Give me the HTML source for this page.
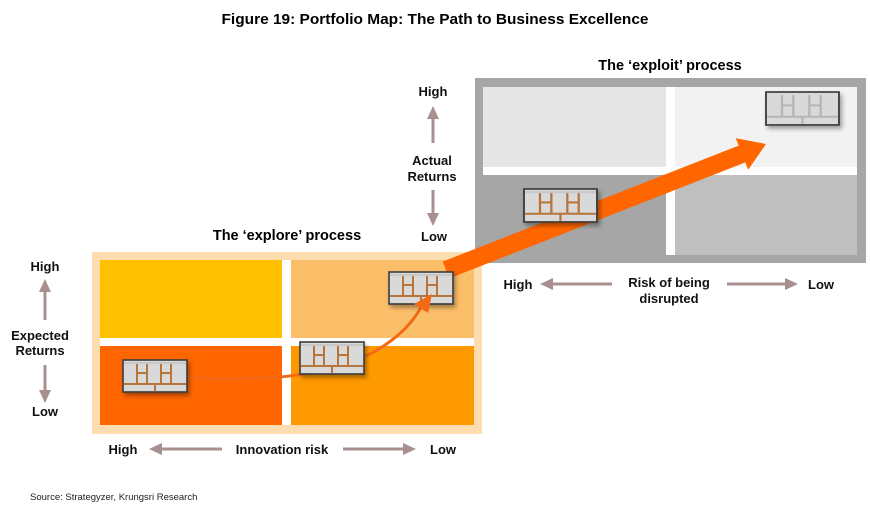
<!DOCTYPE html>
<html><head><meta charset="utf-8"><style>html,body{margin:0;padding:0;background:#fff}svg{display:block}</style></head>
<body>
<svg width="870" height="510" viewBox="0 0 870 510" xmlns="http://www.w3.org/2000/svg" font-family="Liberation Sans, sans-serif">
<defs>
<filter id="sh" x="-20%" y="-20%" width="150%" height="160%"><feDropShadow dx="2" dy="3" stdDeviation="2" flood-color="#000" flood-opacity="0.35"/></filter>
<g id="ic">
<rect x="0" y="0" width="64" height="32" fill="#D9D9D9" stroke="#3a3a3a" stroke-width="1.6"/>
<g stroke="#B8753A" stroke-width="2" fill="none">
<line x1="1" y1="24" x2="63" y2="24"/>
<line x1="32" y1="24" x2="32" y2="31"/>
<line x1="14" y1="3" x2="14" y2="24"/><line x1="24" y1="3" x2="24" y2="24"/><line x1="14" y1="13" x2="24" y2="13"/>
<line x1="38" y1="3" x2="38" y2="24"/><line x1="48" y1="3" x2="48" y2="24"/><line x1="38" y1="13" x2="48" y2="13"/>
<line x1="1" y1="3" x2="63" y2="3" stroke="#C8C8C8"/>
</g>
</g>
<g id="icg">
<rect x="0" y="0" width="64" height="32" fill="#D9D9D9" stroke="#3a3a3a" stroke-width="1.6"/>
<g stroke="#B5B5B5" stroke-width="2" fill="none">
<line x1="1" y1="24" x2="63" y2="24"/><line x1="32" y1="24" x2="32" y2="31"/>
<line x1="14" y1="3" x2="14" y2="24"/><line x1="24" y1="3" x2="24" y2="24"/><line x1="14" y1="13" x2="24" y2="13"/>
<line x1="38" y1="3" x2="38" y2="24"/><line x1="48" y1="3" x2="48" y2="24"/><line x1="38" y1="13" x2="48" y2="13"/>
</g>
</g>
</defs>

<text x="435" y="24" text-anchor="middle" font-weight="bold" font-size="14.5" textLength="427" lengthAdjust="spacingAndGlyphs">Figure 19: Portfolio Map: The Path to Business Excellence</text>

<rect x="475" y="78" width="391" height="185" fill="#A6A6A6"/>
<rect x="483" y="87" width="374" height="168" fill="#fff"/>
<rect x="483" y="87" width="183" height="80" fill="#E6E6E6"/>
<rect x="675" y="87" width="182" height="80" fill="#F2F2F2"/>
<rect x="483" y="175" width="183" height="80" fill="#A6A6A6"/>
<rect x="675" y="175" width="182" height="80" fill="#BFBFBF"/>
<text x="670" y="70" text-anchor="middle" font-weight="bold" font-size="14.5">The ‘exploit’ process</text>

<rect x="92" y="252" width="390" height="182" fill="#FDDDB0"/>
<rect x="100" y="260" width="374" height="165" fill="#fff"/>
<rect x="100" y="260" width="182" height="78" fill="#FFC000"/>
<rect x="291" y="260" width="183" height="78" fill="#FBBF6A"/>
<rect x="100" y="346" width="182" height="79" fill="#FF6600"/>
<rect x="291" y="346" width="183" height="79" fill="#FF9900"/>
<text x="287" y="240" text-anchor="middle" font-weight="bold" font-size="14.5">The ‘explore’ process</text>

<polygon points="442.7,261.6 738.7,145.6 735.8,138.2 766,144 748.2,169.8 745.3,162.4 449.3,278.4" fill="#FF6600"/>
<path d="M187,378 C260,380 300,378 340,366 C380,354 410,330 422,305" fill="none" stroke="#F46A14" stroke-width="3"/>

<use href="#ic" transform="translate(524,189) scale(1.14,1.03)" filter="url(#sh)"/>
<use href="#ic" x="123" y="360" filter="url(#sh)"/>
<use href="#ic" x="300" y="342" filter="url(#sh)"/>
<use href="#ic" x="389" y="272" filter="url(#sh)"/>
<polygon points="414,304 432,294 428,313" fill="#F46A14"/>
<use href="#icg" transform="translate(766,92) scale(1.14,1.03)" filter="url(#sh)"/>

<g font-weight="bold" font-size="13" fill="#111" text-anchor="middle">
<text x="45" y="271">High</text>
<text x="40" y="340">Expected</text>
<text x="40" y="355">Returns</text>
<text x="45" y="416">Low</text>
<text x="433" y="96">High</text>
<text x="432" y="165">Actual</text>
<text x="432" y="181">Returns</text>
<text x="434" y="241">Low</text>
<text x="123" y="454">High</text>
<text x="282" y="454">Innovation risk</text>
<text x="443" y="454">Low</text>
<text x="518" y="289">High</text>
<text x="669" y="287">Risk of being</text>
<text x="669" y="303">disrupted</text>
<text x="821" y="289">Low</text>
</g>
<g fill="#A89090" stroke="#A89090">
<line x1="45" y1="290" x2="45" y2="320" stroke-width="3"/><polygon points="39,292 51,292 45,279" stroke="none"/>
<line x1="45" y1="365" x2="45" y2="392" stroke-width="3"/><polygon points="39,390 51,390 45,403" stroke="none"/>
<line x1="433" y1="117" x2="433" y2="143" stroke-width="3"/><polygon points="427,119 439,119 433,106" stroke="none"/>
<line x1="433" y1="190" x2="433" y2="215" stroke-width="3"/><polygon points="427,213 439,213 433,226" stroke="none"/>
<line x1="160" y1="449" x2="222" y2="449" stroke-width="3"/><polygon points="162,443 162,455 149,449" stroke="none"/>
<line x1="343" y1="449" x2="405" y2="449" stroke-width="3"/><polygon points="403,443 403,455 416,449" stroke="none"/>
<line x1="551" y1="284" x2="612" y2="284" stroke-width="3"/><polygon points="553,278 553,290 540,284" stroke="none"/>
<line x1="727" y1="284" x2="787" y2="284" stroke-width="3"/><polygon points="785,278 785,290 798,284" stroke="none"/>
</g>

<text x="30" y="500" font-size="9.5" fill="#222">Source: Strategyzer, Krungsri Research</text>
</svg>
</body></html>
